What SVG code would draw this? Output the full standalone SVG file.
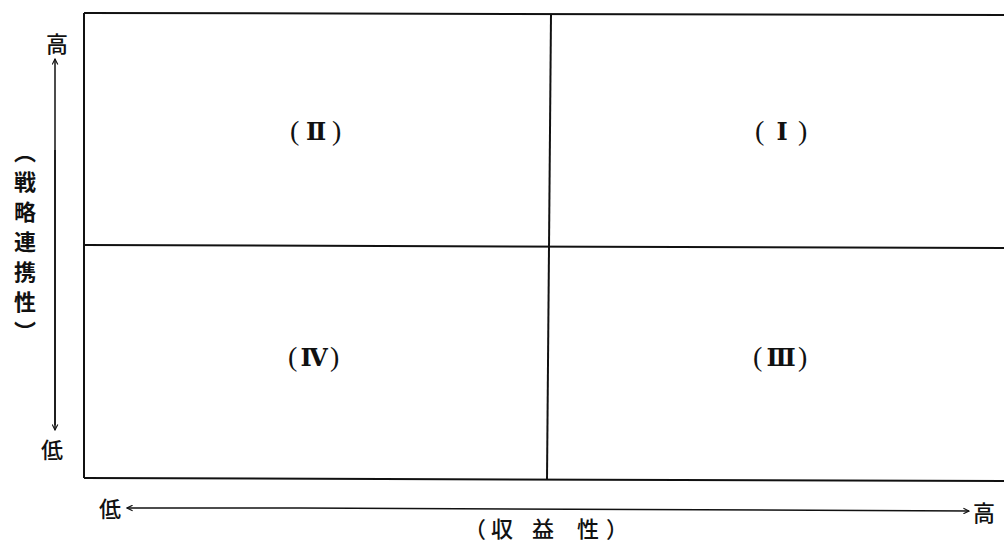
<svg xmlns="http://www.w3.org/2000/svg" width="1004" height="551" viewBox="0 0 1004 551">
<defs>
<style>
.ln{stroke:#111;stroke-width:2;fill:none}
.ax{stroke:#111;stroke-width:1.5;fill:none}
.cj{font-family:"Noto Sans CJK JP","Noto Sans CJK SC",sans-serif;font-size:22px;font-weight:500;fill:#111}
.cv{font-family:"Noto Sans CJK JP","Noto Sans CJK SC",sans-serif;font-size:22px;font-weight:700;fill:#111;writing-mode:vertical-rl;letter-spacing:8px}
.pa{font-family:"Liberation Serif",serif;font-size:28px;fill:#111}
.nu{font-family:"DejaVu Serif","Liberation Serif",serif;font-size:24px;font-weight:bold;fill:#111}
</style>
<marker id="ah" viewBox="0 0 10 10" refX="9" refY="5" markerWidth="7" markerHeight="7" orient="auto" markerUnits="userSpaceOnUse">
<path d="M1,1 L9,5 L1,9" fill="none" stroke="#111" stroke-width="1.6"/>
</marker>
</defs>
<rect width="1004" height="551" fill="#fff"/>
<g id="connectors">
<path class="ln" d="M84,13 L1004,15"/>
<path class="ln" d="M84,13 L84,478"/>
<path class="ln" d="M84,478 L1004,481"/>
<path class="ln" d="M551,14 L547,480"/>
<path class="ln" d="M84,245 L1004,248"/>
<path class="ax" d="M55,425 L55,59" marker-end="url(#ah)"/>
<path class="ax" d="M55,150 L55,430" marker-end="url(#ah)"/>
<path class="ax" d="M300,508 L127,508" marker-end="url(#ah)"/>
<path class="ax" d="M300,508 L969,511" marker-end="url(#ah)"/>
</g>
<g id="axis-y">
<text class="cj" x="57" y="52" text-anchor="middle">高</text>
<text class="cj" x="52" y="458" text-anchor="middle">低</text>
<text class="cv" x="25" y="141">（戦略連携性）</text>
</g>
<g id="axis-x">
<text class="cj" x="110" y="517" text-anchor="middle">低</text>
<text class="cj" x="984" y="521" text-anchor="middle">高</text>
<text class="cj" y="537" text-anchor="middle"><tspan x="475">（</tspan><tspan x="502">収</tspan><tspan x="543">益</tspan><tspan x="588">性</tspan><tspan x="617">）</tspan></text>
</g>
<g id="q2"><text class="pa" x="290" y="140">(</text><text class="nu" x="316" y="140" text-anchor="middle">Ⅱ</text><text class="pa" x="332" y="140">)</text></g>
<g id="q1"><text class="pa" x="755" y="140">(</text><text class="nu" x="782" y="140" text-anchor="middle">Ⅰ</text><text class="pa" x="798" y="140">)</text></g>
<g id="q4"><text class="pa" x="288" y="366">(</text><text class="nu" x="314" y="366" text-anchor="middle">Ⅳ</text><text class="pa" x="330" y="366">)</text></g>
<g id="q3"><text class="pa" x="753" y="366">(</text><text class="nu" x="781" y="366" text-anchor="middle">Ⅲ</text><text class="pa" x="798" y="366">)</text></g>
</svg>
